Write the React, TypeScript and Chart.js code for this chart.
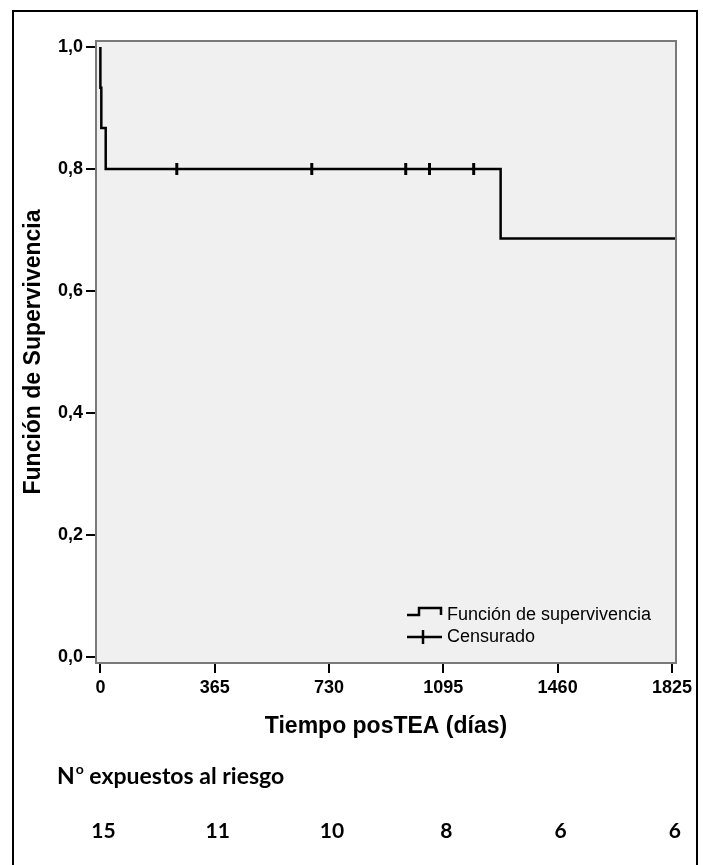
import React, { useEffect, useRef } from "react";
import { Chart, registerables } from "chart.js";

Chart.register(...registerables);

// ---- data ----
const stepDays = [0, 0, 3, 17, 1278, 1838];
const survival = [1.0, 0.933, 0.867, 0.8, 0.686, 0.686];
const censoredDays = [244, 675, 975, 1051, 1192];
const censoredSurv = [0.8, 0.8, 0.8, 0.8, 0.8];
const xTicks = [0, 365, 730, 1095, 1460, 1825];
const yTicks = [0, 0.2, 0.4, 0.6, 0.8, 1.0];
const riskDays = [0, 365, 730, 1095, 1460, 1825];
const atRisk = [15, 11, 10, 8, 6, 6];
const legendLabels = ["Función de supervivencia", "Censurado"];
const xTitle = "Tiempo posTEA (días)";
const yTitle = "Función de Supervivencia";
const riskTitleMain = "N";
const riskTitleSup = "o";
const riskTitleRest = " expuestos al riesgo";

const SANS = "'Liberation Sans', Arial, sans-serif";
const LATO = "Lato, 'Open Sans', sans-serif";

const decorPlugin = {
  id: "decor",
  beforeDraw(chart: any) {
    const { ctx, chartArea: a, width, height } = chart;
    ctx.save();
    ctx.fillStyle = "#ffffff";
    ctx.fillRect(0, 0, width, height);
    ctx.fillStyle = "#f0f0f0";
    ctx.fillRect(a.left, a.top, a.right - a.left, a.bottom - a.top);
    // outer frame
    ctx.strokeStyle = "#000";
    ctx.lineWidth = 2;
    ctx.beginPath();
    ctx.moveTo(13, height + 2);
    ctx.lineTo(13, 11);
    ctx.lineTo(697, 11);
    ctx.lineTo(697, height + 2);
    ctx.stroke();
    ctx.restore();
  },
  afterDraw(chart: any) {
    const { ctx, chartArea: a, scales } = chart;
    ctx.save();
    // plot border
    ctx.strokeStyle = "#7a7a7a";
    ctx.lineWidth = 2;
    ctx.strokeRect(a.left, a.top, a.right - a.left, a.bottom - a.top);

    // legend
    const lx = a.right - 269;
    const r1 = a.bottom - 48;
    const r2 = a.bottom - 26;
    ctx.strokeStyle = "#000";
    ctx.lineWidth = 2.5;
    ctx.beginPath();
    ctx.moveTo(lx, r1);
    ctx.lineTo(lx + 12, r1);
    ctx.lineTo(lx + 12, r1 - 7);
    ctx.lineTo(lx + 34, r1 - 7);
    ctx.lineTo(lx + 34, r1);
    ctx.stroke();
    ctx.beginPath();
    ctx.moveTo(lx, r2);
    ctx.lineTo(lx + 35, r2);
    ctx.moveTo(lx + 16, r2 - 7);
    ctx.lineTo(lx + 16, r2 + 7);
    ctx.stroke();
    ctx.fillStyle = "#000";
    ctx.font = `18px ${SANS}`;
    ctx.textBaseline = "middle";
    ctx.textAlign = "left";
    ctx.fillText(legendLabels[0], lx + 40, r1);
    ctx.fillText(legendLabels[1], lx + 40, r2);

    // risk table
    ctx.font = `bold 23px ${LATO}`;
    ctx.textBaseline = "alphabetic";
    const ty = 784;
    let tx = 57;
    ctx.fillText(riskTitleMain, tx, ty);
    tx += ctx.measureText(riskTitleMain).width + 1;
    ctx.font = `bold 14px ${LATO}`;
    ctx.fillText(riskTitleSup, tx, ty - 10);
    tx += ctx.measureText(riskTitleSup).width;
    ctx.font = `bold 23px ${LATO}`;
    ctx.fillText(riskTitleRest, tx, ty);

    ctx.font = `bold 21px ${LATO}`;
    ctx.textAlign = "center";
    ctx.textBaseline = "middle";
    riskDays.forEach((d, i) => {
      const px = scales.x.getPixelForValue(d);
      ctx.fillText(String(atRisk[i]), px + 3, 831);
    });
    ctx.restore();
  },
};

export default function App() {
  const ref = useRef<HTMLCanvasElement | null>(null);
  useEffect(() => {
    if (!ref.current) return;
    const chart = new Chart(ref.current, {
      type: "line",
      data: {
        datasets: [
          {
            label: legendLabels[0],
            data: stepDays.map((d, i) => ({ x: d, y: survival[i] })),
            stepped: "before",
            borderColor: "#000",
            borderWidth: 2.5,
            pointRadius: 0,
            fill: false,
          },
          {
            label: legendLabels[1],
            data: censoredDays.map((d, i) => ({ x: d, y: censoredSurv[i] })),
            showLine: false,
            pointStyle: "line",
            rotation: 90,
            pointRadius: 6,
            borderColor: "#000",
            borderWidth: 3,
          },
        ],
      } as any,
      options: {
        responsive: false,
        animation: false,
        events: [],
        layout: { padding: { top: 41, right: 27, left: 0, bottom: 122 } },
        plugins: { legend: { display: false }, tooltip: { enabled: false } },
        scales: {
          x: {
            type: "linear",
            min: -14,
            max: 1838,
            afterBuildTicks: (s: any) => {
              s.ticks = xTicks.map((v) => ({ value: v }));
            },
            afterFit: (s: any) => {
              s.height = 80;
            },
            grid: { drawOnChartArea: false, drawTicks: true, tickLength: 10, color: "#000", lineWidth: 2 },
            border: { display: false },
            ticks: {
              color: "#000",
              font: { family: SANS, size: 18, weight: "bold" },
              padding: 4,
              maxRotation: 0,
              autoSkip: false,
              callback: (v: any) => String(v),
            },
            title: {
              display: true,
              text: xTitle,
              color: "#000",
              font: { family: SANS, size: 23, weight: "bold" },
              padding: { top: 0, bottom: 3 },
            },
          },
          y: {
            type: "linear",
            min: -0.0098,
            max: 1.0098,
            afterBuildTicks: (s: any) => {
              s.ticks = yTicks.map((v) => ({ value: v }));
            },
            afterFit: (s: any) => {
              s.width = 96;
            },
            grid: { drawOnChartArea: false, drawTicks: true, tickLength: 10, color: "#000", lineWidth: 2 },
            border: { display: false },
            ticks: {
              color: "#000",
              font: { family: SANS, size: 18, weight: "bold" },
              padding: 3,
              callback: (v: any) => Number(v).toFixed(1).replace(".", ","),
            },
            title: {
              display: true,
              text: yTitle,
              color: "#000",
              font: { family: SANS, size: 23, weight: "bold" },
              padding: { top: 20, bottom: 0 },
            },
          },
        },
      } as any,
      plugins: [decorPlugin],
    });
    return () => chart.destroy();
  }, []);
  return (
    <div style={{ width: 703, height: 865 }}>
      <style>{`body{margin:0}`}</style>
      <canvas ref={ref} width={703} height={865} style={{ display: "block" }} />
    </div>
  );
}
